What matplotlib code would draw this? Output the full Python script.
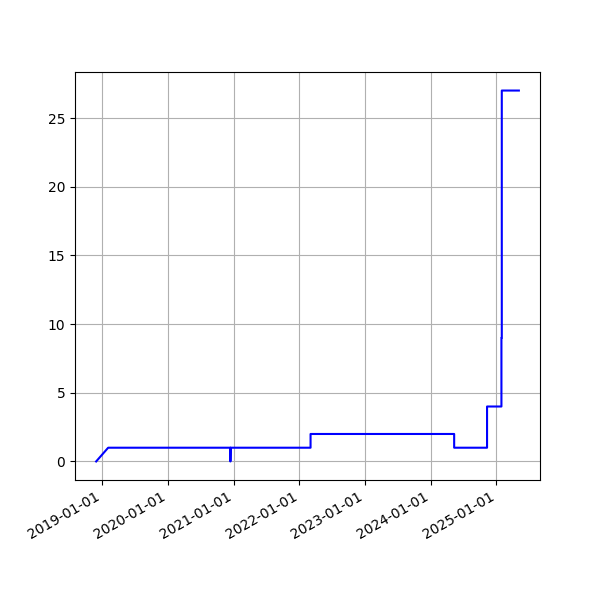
import matplotlib
matplotlib.use('Agg')
import matplotlib.pyplot as plt
import matplotlib.dates as mdates
import pandas as pd

# step-like series
dates = ['2018-11-27', '2019-02-02', '2020-12-13', '2020-12-13', '2020-12-14',
         '2022-03-04', '2022-03-04', '2024-05-11', '2024-05-11',
         '2024-11-10', '2024-11-10', '2025-01-29', '2025-01-29',
         '2025-01-31', '2025-01-31', '2025-05-06']
values = [0, 1, 1, 0, 1,
          1, 2, 2, 1,
          1, 4, 4, 9,
          9, 27, 27]


def main():
    x = pd.to_datetime(dates)

    fig, ax = plt.subplots(figsize=(6, 6), dpi=100)
    ax.plot(x, values, color='b')
    ax.grid(True)
    ax.xaxis.set_major_locator(mdates.YearLocator())
    ax.xaxis.set_major_formatter(mdates.DateFormatter('%Y-%m-%d'))
    fig.autofmt_xdate()

    fig.savefig('out.png', dpi=100)


if __name__ == '__main__':
    main()
